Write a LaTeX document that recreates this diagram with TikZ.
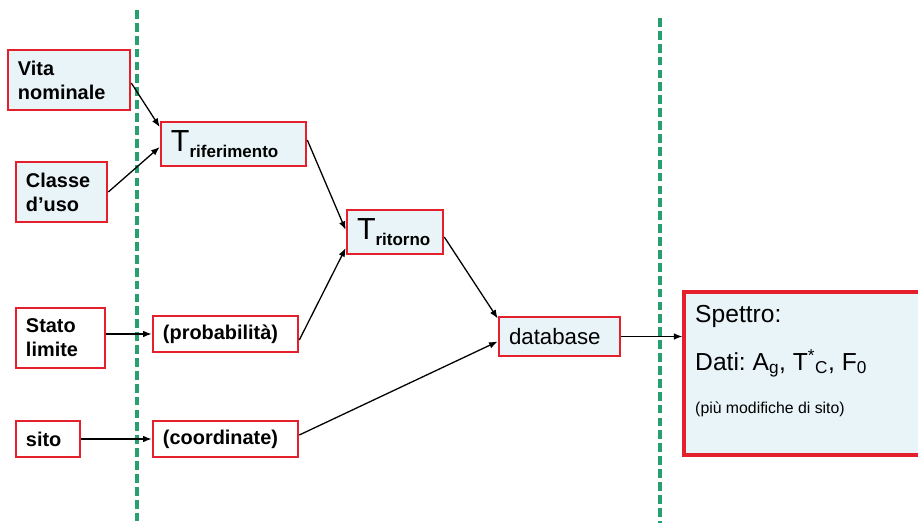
\documentclass[tikz,border=0pt]{standalone}
\usepackage{fontspec}
\setmainfont{Liberation Sans}
\usetikzlibrary{arrows.meta,calc}

\definecolor{boxred}{HTML}{E3202B}
\definecolor{boxfill}{HTML}{E8F4F8}
\definecolor{sepgreen}{HTML}{25A06E}

\frenchspacing

% big T with a bold index, as in T_riferimento
\newcommand\Tind[1]{{\fontsize{26}{28}\selectfont T}\raisebox{-0.16cm}{\fontsize{14.5}{16}\selectfont\bfseries #1}}

\begin{document}
\begin{tikzpicture}[x=0.03cm, y=-0.03cm,
    box/.style={draw=boxred, line width=2.2pt, fill=boxfill, inner xsep=0.3cm, inner ysep=1pt, align=left},
    wbox/.style={box, fill=white},
    inp/.style={font=\fontsize{17}{20.5}\selectfont\bfseries},
    arr/.style={-{Latex[length=2.6mm,width=2mm]}, line width=1.1pt},
    sep/.style={draw=sepgreen, line width=2.7pt, dash pattern=on 7.5pt off 3.5pt}
]
\useasboundingbox (0,0) rectangle (918,523);

% --- separators ---
\draw[sep] (137,10) -- (137,523);
\draw[sep] (660,18) -- (660,523);

% --- input data ---
\node[box, inp, text width=3.06cm, minimum height=1.8cm] (vita) at (69,80) {Vita\\nominale};
\node[box, inp, text width=2.13cm, minimum height=1.8cm] (classe) at (61.5,192) {Classe\\d’uso};
\node[wbox, inp, text width=2.07cm, minimum height=1.8cm] (stato) at (60.5,338) {Stato\\limite};
\node[wbox, inp, text width=1.32cm, minimum height=1.08cm] (sito) at (48,439) {sito};

% --- intermediate quantities ---
\node[box, text width=3.75cm, minimum height=1.32cm] (trif) at (233.5,144) {\Tind{riferimento}};
\node[wbox, inp, text width=3.75cm, minimum height=1.08cm] (prob) at (225.5,334) {(probabilità)};
\node[wbox, inp, text width=3.75cm, minimum height=1.08cm] (coord) at (225.5,439) {(coordinate)};
\node[box, text width=2.28cm, minimum height=1.32cm] (trit) at (395,232) {\Tind{ritorno}};
\node[box, font=\fontsize{19}{22}\selectfont, text width=3.03cm, minimum height=1.17cm] (db) at (559.5,336.5) {database};

% --- result ---
\node[box, line width=2.6pt, text width=6.78cm, minimum height=4.89cm] (spettro) at (807,373.5) {};
\node[anchor=base west, inner sep=0pt, font=\fontsize{21}{24}\selectfont] (spt) at (695,322) {Spettro:};
\node[anchor=base west, inner sep=0pt, font=\fontsize{21}{24}\selectfont] (dati) at (695,370)
    {Dati: A\textsubscript{g}, T\textsuperscript{*}\textsubscript{C}, F\textsubscript{0}};
\node[anchor=base west, inner sep=0pt, font=\fontsize{13.5}{16}\selectfont] (mod) at (695,413) {(più modifiche di sito)};

% --- connectors ---
\draw[arr] ($(vita.east)+(0,3)$) -- ($(trif.west)+(0,-17)$);
\draw[arr] (classe.east) -- ($(trif.west)+(0,3)$);
\draw[arr] ($(trif.east)+(0,-4)$) -- ($(trit.west)+(0,-2)$);
\draw[arr] ($(prob.east)+(0,6)$) -- ($(trit.west)+(0,16)$);
\draw[arr] ($(trit.east)+(0,5)$) -- ($(db.west)+(0,-18)$);
\draw[arr] ($(coord.east)+(0,-4)$) -- ($(db.west)+(0,5)$);
\draw[arr] (stato.east |- prob.west) -- (prob.west);
\draw[arr] (sito.east) -- (coord.west);
\draw[arr] (db.east) -- (db.east -| spettro.west);

\end{tikzpicture}
\end{document}
